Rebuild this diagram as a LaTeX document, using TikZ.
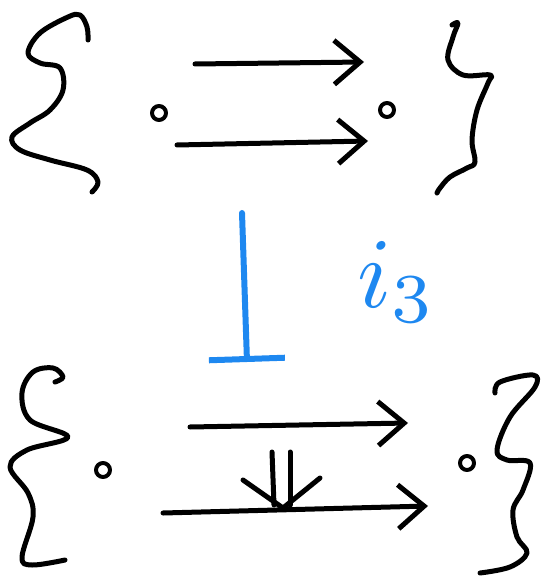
\documentclass[tikz,border=0pt]{standalone}
\usepackage{graphicx}
\usetikzlibrary{arrows.meta}
\definecolor{penblue}{RGB}{30,136,240}

\begin{document}
\begin{tikzpicture}[x=0.5pt, y=-0.5pt, line cap=round, line join=round,
    ink/.style={line width=2.5pt, draw=black},
    arr/.style={ink, -{Straight Barb[length=13pt, width=22pt]}},
    obj/.style={circle, draw, line width=2pt, minimum size=7pt, inner sep=0pt},
    funct/.style={line width=3pt, draw=penblue, -{Bar[width=38pt]}}]

\useasboundingbox (0,0) rectangle (541,576);

% objects
\node [obj] (a1) at (159,113) {};
\node [obj] (b1) at (387,110) {};
\node [obj] (a2) at (103,470) {};
\node [obj] (b2) at (467,463) {};

% top pair of arrows
\coordinate (f1s) at (195,64);  \coordinate (f1t) at (364,62);
\coordinate (g1s) at (177,145); \coordinate (g1t) at (368,141);
\draw [arr] (f1s) -- (f1t);
\draw [arr] (g1s) -- (g1t);

% bottom pair of arrows with the 2-cell
\coordinate (f2s) at (190,427); \coordinate (f2t) at (408,423);
\coordinate (g2s) at (163,513); \coordinate (g2t) at (428,506);
\draw [arr] (f2s) -- (f2t);
\draw [arr] (g2s) -- (g2t);
\coordinate (cs) at (281,452); \coordinate (ct) at (283,508);
\draw [ink] ([shift={(-9,0)}]cs) -- ([shift={(-9,-3)}]ct);
\draw [ink] ([shift={(9,0)}]cs) -- ([shift={(7,-3)}]ct);
\draw [ink] ([shift={(-40,-28)}]ct) -- (ct) -- ([shift={(37,-30)}]ct);

% braces
\draw [ink] plot[smooth, tension=0.6] coordinates {(88,40) (87,27) (80,15) (68,17) (40,33) (28,53) (40,63) (60,68) (63,90) (50,110) (30,123) (12,137) (20,150) (50,160) (87,170) (98,182) (92,192)};
\draw [ink] plot[smooth, tension=0.6] coordinates {(452,25) (458,23) (453,37) (448,60) (463,75) (490,75) (488,83) (477,110) (472,140) (475,162) (467,168) (450,177) (440,188) (437,193)};
\draw [ink] plot[smooth, tension=0.6] coordinates {(55,382) (63,377) (53,368) (33,372) (22,393) (30,420) (68,437) (27,450) (10,467) (28,493) (33,517) (22,557) (32,565) (65,560)};
\draw [ink] plot[smooth, tension=0.6] coordinates {(495,393) (500,382) (533,375) (535,387) (510,417) (497,450) (507,460) (530,463) (523,490) (513,510) (517,537) (527,553) (510,567) (480,573)};

% the functor
\coordinate (top) at (242,213); \coordinate (bot) at (247,362);
\draw [funct] (top) -- (bot);
\node [text=penblue] (lbl) at (397,282) {\scalebox{5}{$i_3$}};

\end{tikzpicture}
\end{document}
